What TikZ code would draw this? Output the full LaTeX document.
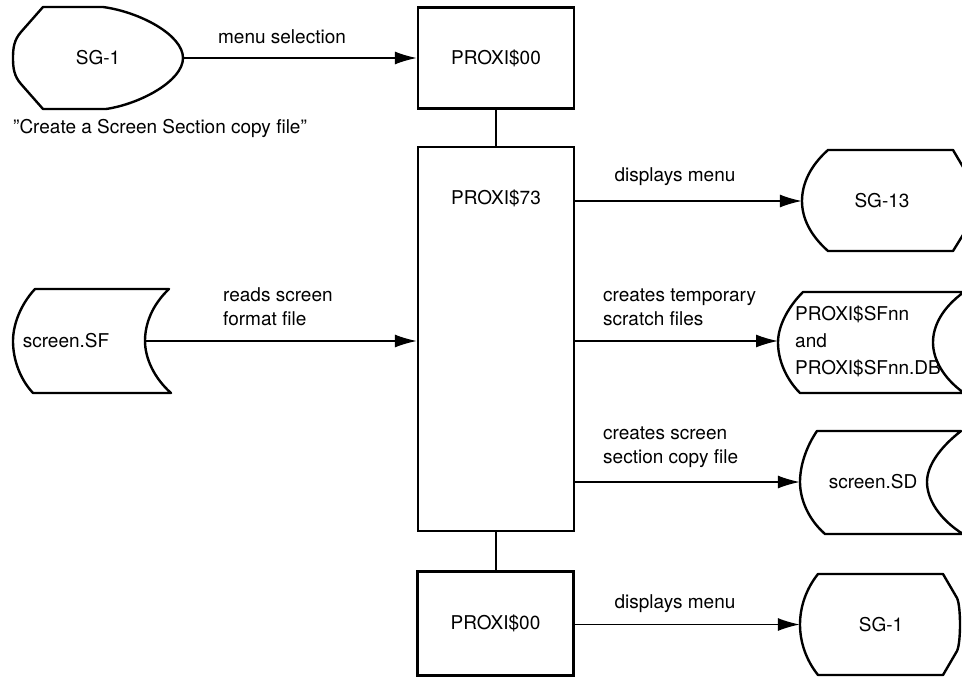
\documentclass[tikz,border=0pt]{standalone}
\usepackage{fontspec}
\setmainfont{TeX Gyre Heros}
\usetikzlibrary{arrows.meta}

\tikzset{
  outline/.style={draw=black, line width=2.4pt, line join=round, fill=white},
  procbox/.style={draw=black, line width=2.4pt, minimum width=156pt, inner sep=0pt},
  anchorbox/.style={inner sep=0pt, font=\fontsize{19}{24}\selectfont},
  flow/.style={line width=1.5pt, -{Latex[length=22pt,width=13pt]}},
  link/.style={line width=1.5pt},
  lbl/.style={inner sep=0pt, font=\fontsize{19}{24}\selectfont},
}

\begin{document}
\begin{tikzpicture}[x=1pt, y=-1pt]
\useasboundingbox (0,0) rectangle (962,677);
\fill[white] (0,0) rectangle (962,677);

% ---- program modules ----
\node[procbox, minimum height=101pt, lbl] (p00a) at (496,58) {PROXI\$00};
\node[procbox, minimum height=384pt] (p73) at (496,339) {};
\node[lbl] (p73t) at (496,198) {PROXI\$73};
\node[procbox, minimum height=104pt, lbl] (p00b) at (495.5,623.5) {PROXI\$00};

\draw[link] (p00a.south) -- (p73.north);
\draw[link] (p73.south) -- (p73.south |- p00b.north);

% ---- screen SG-1 (entry) ----
\draw[outline] (43,7) -- (103,7)
  .. controls (140,12) and (183,35) .. (183,58)
  .. controls (183,81) and (140,104) .. (106,109)
  -- (43,109) -- (21,84)
  .. controls (14,76) and (13,68) .. (13,58)
  .. controls (13,48) and (14,40) .. (21,32) -- cycle;
\node[anchorbox, minimum width=170pt, minimum height=102pt] (sgA) at (98,58) {SG-1};

% ---- screen format file ----
\draw[outline] (35,289) -- (169,289)
  .. controls (152,305) and (145,324) .. (145,341)
  .. controls (145,358) and (154,378) .. (171,393)
  -- (33,393)
  .. controls (19,378) and (13,358) .. (13,341)
  .. controls (13,324) and (21,304) .. (35,289) -- cycle;
\node[lbl] (ssf) at (66,341) {screen.SF};
\coordinate (ssfout) at (145,341);

% ---- screen SG-13 ----
\draw[outline] (828,150) -- (953,150) -- (966,172)
  .. controls (970,180) and (970,222) .. (966,230)
  -- (953,251) -- (828,251)
  .. controls (810,235) and (802,218) .. (802,201)
  .. controls (802,184) and (810,166) .. (828,150) -- cycle;
\node[anchorbox, minimum width=160pt, minimum height=101pt] (sgB) at (882,201) {SG-13};

% ---- temporary scratch files ----
\draw[outline] (803,292) -- (964,292)
  .. controls (942,308) and (933,326) .. (933,342.5)
  .. controls (933,359) and (943,378) .. (964,393)
  -- (800,393)
  .. controls (786,379) and (778,360) .. (778,342.5)
  .. controls (778,325) and (789,306) .. (803,292) -- cycle;
\node[lbl, anchor=west, align=left, inner xsep=17pt, font=\fontsize{19}{27}\selectfont]
  (tmpf) at (778,341) {PROXI\$SFnn\\and\\PROXI\$SFnn.DB};

% ---- screen section copy file ----
\draw[outline] (817,431) -- (961,431)
  .. controls (938,449) and (927,467) .. (927,482)
  .. controls (927,499) and (939,519) .. (963,534)
  -- (825,534)
  .. controls (808,519) and (800,499) .. (800,482)
  .. controls (800,466) and (806,447) .. (817,431) -- cycle;
\node[anchorbox, minimum width=146pt, minimum height=103pt] (ssd) at (873,482) {screen.SD};

% ---- screen SG-1 (return) ----
\draw[outline] (818,574) -- (943,574) -- (957,598)
  .. controls (961,606) and (961,643) .. (957,651)
  -- (943,675) -- (818,675)
  .. controls (806,660) and (800,642) .. (800,624.5)
  .. controls (800,607) and (806,589) .. (818,574) -- cycle;
\node[anchorbox, minimum width=162pt, minimum height=101pt] (sgC) at (881,624.5) {SG-1};

% ---- data flow ----
\draw[flow] (sgA.east) -- (p00a.west);
\draw[flow] (ssfout) -- (ssfout -| p73.west);
\draw[flow] (sgB.west -| p73.east) -- (sgB.west);
\draw[flow] (tmpf.west -| p73.east) -- (tmpf.west);
\draw[flow] (ssd.west -| p73.east) -- (ssd.west);
\draw[flow] (p00b.east |- sgC.west) -- (sgC.west);

% ---- labels ----
\node[lbl] (lmenu) at (282,37) {menu selection};
\node[lbl, anchor=west] (lcreate) at (13,128) {''Create a Screen Section copy file''};
\node[lbl, anchor=west, align=left] (lreads) at (223,307) {reads screen\\format file};
\node[lbl] (ldisp1) at (675,177) {displays menu};
\node[lbl, anchor=west, align=left] (ltemp) at (603,307) {creates temporary\\scratch files};
\node[lbl, anchor=west, align=left] (lsect) at (603,447) {creates screen\\section copy file};
\node[lbl] (ldisp2) at (675,604) {displays menu};
\end{tikzpicture}
\end{document}
